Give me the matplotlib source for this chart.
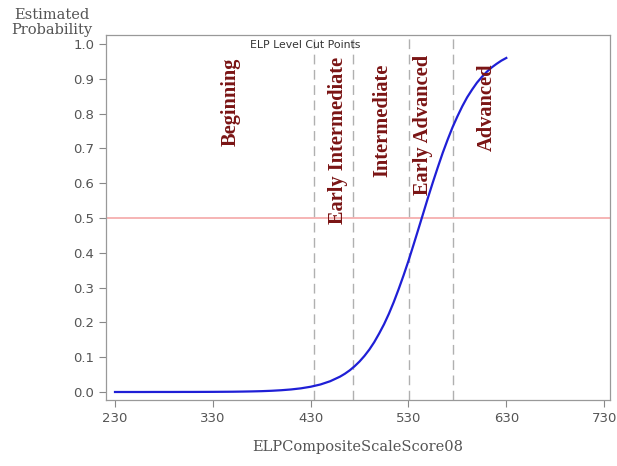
import matplotlib
matplotlib.use("Agg")
import matplotlib.pyplot as plt

# Fitted probability curve (score, estimated probability)
scores = [230, 240, 250, 260, 270, 280, 290, 300, 310, 320, 330, 340, 350, 360, 370,
          380, 390, 400, 410, 420, 430, 440, 450, 460, 465, 470, 475, 480, 485, 490,
          495, 500, 505, 510, 515, 520, 525, 530, 535, 540, 545, 550, 555, 560, 565,
          570, 575, 580, 585, 590, 595, 600, 605, 610, 615, 620, 625, 630]
probability = [0.0000, 0.0000, 0.0000, 0.0000, 0.0001, 0.0001, 0.0001, 0.0002, 0.0002, 0.0003,
               0.0004, 0.0006, 0.0008, 0.0012, 0.0017, 0.0024, 0.0035, 0.0051, 0.0073, 0.0105,
               0.0151, 0.0216, 0.0310, 0.0441, 0.0525, 0.0624, 0.0742, 0.0878, 0.1037, 0.122,
               0.1433, 0.168, 0.1946, 0.225, 0.2588, 0.296, 0.3354, 0.377, 0.4216, 0.467,
               0.5129, 0.559, 0.6034, 0.646, 0.6873, 0.725, 0.7605, 0.792, 0.8211, 0.847,
               0.8689, 0.889, 0.9055, 0.920, 0.9326, 0.943, 0.9524, 0.960]

# ELP level cut points
cut_points = [433, 473, 531, 575]

# Level labels: (text, x, top y)
level_names = ["Beginning", "Early Intermediate", "Intermediate", "Early Advanced", "Advanced"]
level_x = [348, 458, 503, 545, 610]
level_top = [0.962, 0.962, 0.945, 0.968, 0.945]

xticks = [230, 330, 430, 530, 630, 730]
yticks = [0.0, 0.1, 0.2, 0.3, 0.4, 0.5, 0.6, 0.7, 0.8, 0.9, 1.0]

fig = plt.figure(figsize=(6.17, 4.66), dpi=100)
ax = fig.add_axes([106 / 617, 1 - 400 / 466, (610 - 106) / 617, (400 - 35) / 466])

ax.set_xlim(220.8, 736)
ax.set_ylim(-0.023, 1.026)

ax.axhline(0.5, color="#f4a0a0", lw=1.1, zorder=1)
for c in cut_points:
    ax.axvline(c, color="#b0b0b0", lw=1.0, ls=(0, (7, 4)), zorder=1)

ax.plot(scores, probability, color="#1f1fd6", lw=1.6, zorder=3)

for name, x, top in zip(level_names, level_x, level_top):
    ax.text(x, top, name, rotation=90, ha="center", va="top",
            fontsize=14.7, fontweight="bold", family="Liberation Serif",
            color="#7a1414", zorder=4)

ax.text(424, 0.997, "ELP Level Cut Points", ha="center", va="center",
        fontsize=7.8, color="#333333", family="DejaVu Sans")

ax.set_xticks(xticks)
ax.set_yticks(yticks)
ax.set_yticklabels([f"{v:.1f}" for v in yticks])
ax.tick_params(direction="out", length=5, width=0.8, color="#888888",
               labelcolor="#555555", labelsize=9.5)
for lbl in ax.get_xticklabels() + ax.get_yticklabels():
    lbl.set_family("DejaVu Sans")
for s in ax.spines.values():
    s.set_color("#999999")
    s.set_linewidth(0.9)

ax.set_xlabel("ELPCompositeScaleScore08", family="DejaVu Serif", fontsize=10.5,
              color="#555555", labelpad=11)
fig.text(52 / 617, 1 - 8 / 466, "Estimated\nProbability", ha="center", va="top",
         family="DejaVu Serif", fontsize=10.5, color="#555555", linespacing=1.05)

fig.savefig("out.png", dpi=100, facecolor="white")
